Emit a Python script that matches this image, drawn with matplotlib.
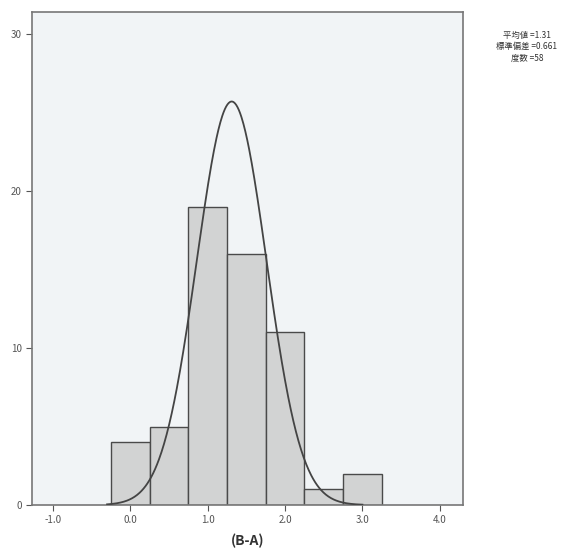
import numpy as np
import matplotlib.pyplot as plt

plt.rcParams['font.family'] = ['Noto Sans CJK JP', 'DejaVu Sans']

# histogram of (B-A)
bin_centers = [0.0, 0.5, 1.0, 1.5, 2.0, 2.5, 3.0]
counts = [4, 5, 19, 16, 11, 1, 2]
bin_width = 0.5

# normal curve as drawn
curve_mean = 1.31
curve_sd = 0.45
n_total = 58

stats_lines = ['平均値 =1.31', '標準偏差 =0.661', '度数 =58']
xticks = [-1.0, 0.0, 1.0, 2.0, 3.0, 4.0]
yticks = [0, 10, 20, 30]

fig = plt.figure(figsize=(5.77, 5.5), dpi=100)
fig.patch.set_facecolor('white')
ax = fig.add_axes([0.0555, 0.0818, 0.747, 0.896])
ax.set_facecolor('#f1f4f6')

ax.bar(bin_centers, counts, width=bin_width, color='#d2d3d3',
       edgecolor='#4a4a4a', linewidth=1.0, zorder=2)

xs = np.linspace(-0.3, 3.0, 400)
ys = n_total * bin_width / (curve_sd * np.sqrt(2 * np.pi)) * np.exp(-0.5 * ((xs - curve_mean) / curve_sd) ** 2)
ax.plot(xs, ys, color='#444444', linewidth=1.3, zorder=3)

ax.set_xlim(-1.27, 4.30)
ax.set_ylim(0, 31.4)
ax.set_xticks(xticks)
ax.set_xticklabels(['%.1f' % v for v in xticks])
ax.set_yticks(yticks)
ax.tick_params(labelsize=7, colors='#555555', length=4, width=0.8)
for s in ax.spines.values():
    s.set_color('#777777')
    s.set_linewidth(1.2)

ax.set_xlabel('(B-A)', fontsize=10, fontweight='bold', color='#333333', labelpad=6)

for i, line in enumerate(stats_lines):
    fig.text(0.913, 0.936 - i * 0.021, line, fontsize=6, color='#333333',
             ha='center', va='center')

fig.savefig('out.png', dpi=100)
